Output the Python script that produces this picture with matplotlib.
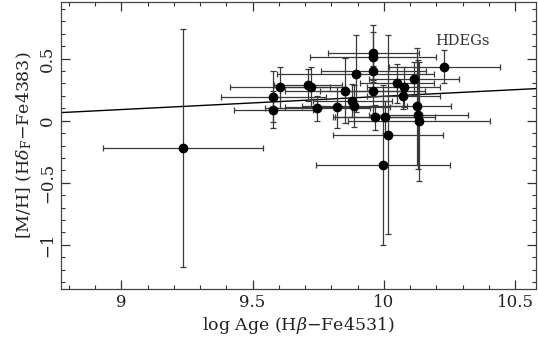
import numpy as np
import matplotlib
matplotlib.use("Agg")
import matplotlib.pyplot as plt
from matplotlib.ticker import MultipleLocator, FuncFormatter

# log Age (Hbeta-Fe4531) and [M/H] (HdeltaF-Fe4383) of the HDEG sample
log_age = [9.235, 9.579, 9.579, 9.604, 9.712, 9.723, 9.747, 9.822, 9.853, 9.880,
           9.887, 9.893, 9.960, 9.960, 9.960, 9.957, 9.967, 10.005, 10.015, 9.998,
           10.051, 10.076, 10.075, 10.115, 10.128, 10.132, 10.134, 10.231]
age_err = [0.305, 0.20, 0.15, 0.19, 0.13, 0.13, 0.20, 0.20, 0.23, 0.15,
           0.20, 0.30, 0.174, 0.24, 0.20, 0.20, 0.16, 0.19, 0.21, 0.256,
           0.14, 0.14, 0.14, 0.173, 0.13, 0.19, 0.27, 0.21]
mh = [-0.22, 0.194, 0.089, 0.269, 0.288, 0.269, 0.099, 0.107, 0.242, 0.161,
      0.115, 0.377, 0.546, 0.510, 0.398, 0.242, 0.027, 0.027, -0.113, -0.357,
      0.301, 0.269, 0.196, 0.339, 0.115, 0.048, -0.006, 0.435]
mh_err = [0.955, 0.207, 0.15, 0.165, 0.13, 0.16, 0.10, 0.165, 0.26, 0.135,
          0.17, 0.31, 0.22, 0.20, 0.15, 0.20, 0.10, 0.13, 0.80, 0.64,
          0.155, 0.16, 0.10, 0.135, 0.47, 0.44, 0.48, 0.135]

# linear fit drawn across the panel
fit_slope = 0.1066
fit_intercept = -0.870

XLIM = (8.77, 10.58)
YLIM = (-1.355, 0.955)

plt.rcParams["font.family"] = "DejaVu Serif"
plt.rcParams["mathtext.fontset"] = "dejavuserif"


def short_label(v, pos):
    return ("%g" % round(v, 3)).replace("-", "\u2212")


fig = plt.figure(figsize=(5.38, 3.44), dpi=100)
ax = fig.add_axes([61 / 538, 1 - 289 / 344, 475 / 538, 287 / 344])

ax.errorbar(log_age, mh, xerr=age_err, yerr=mh_err, fmt="o", color="black",
            ecolor="#3a3a3a", elinewidth=0.9, capsize=2.3, capthick=0.9,
            markersize=6, zorder=3)

xx = np.array(XLIM)
ax.plot(xx, fit_intercept + fit_slope * xx, color="black", lw=1.0, zorder=2)

ax.text(10.30, 0.645, "HDEGs", fontsize=10.5, color="#333333",
        ha="center", va="center")

ax.set_xlim(*XLIM)
ax.set_ylim(*YLIM)
ax.xaxis.set_major_locator(MultipleLocator(0.5))
ax.xaxis.set_minor_locator(MultipleLocator(0.1))
ax.yaxis.set_major_locator(MultipleLocator(0.5))
ax.yaxis.set_minor_locator(MultipleLocator(0.1))
ax.xaxis.set_major_formatter(FuncFormatter(short_label))
ax.yaxis.set_major_formatter(FuncFormatter(short_label))
ax.tick_params(which="both", direction="in", top=True, right=True,
               color="#333333", labelsize=12, labelcolor="#222222")
ax.tick_params(which="major", length=6.5, width=0.9)
ax.tick_params(which="minor", length=3.0, width=0.8)
for lab in ax.get_yticklabels():
    lab.set_rotation(90)
    lab.set_va("center")
for s in ax.spines.values():
    s.set_color("#444444")
    s.set_linewidth(0.9)

ax.set_xlabel(r"log Age (H$\beta$$-$Fe4531)", fontsize=12.5, color="#222222",
              labelpad=3)
ax.set_ylabel(r"[M/H] (H$\delta_{\rm F}$$-$Fe4383)", fontsize=12.5,
              color="#222222", labelpad=4)

fig.savefig("out.png", dpi=100)
